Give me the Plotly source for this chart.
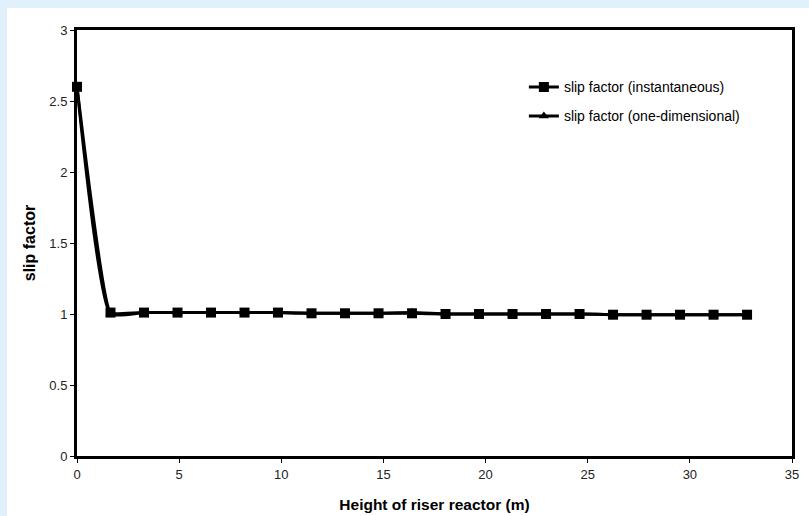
import plotly.graph_objects as go

height_m = [0, 1.64, 3.28, 4.92, 6.56, 8.2, 9.84, 11.48, 13.12, 14.76, 16.4,
            18.04, 19.68, 21.32, 22.96, 24.6, 26.24, 27.88, 29.52, 31.16, 32.8]
slip_inst = [2.6, 1.01, 1.01, 1.01, 1.01, 1.01, 1.01, 1.005, 1.005, 1.005, 1.005,
             1.0, 1.0, 1.0, 1.0, 1.0, 0.995, 0.995, 0.995, 0.995, 0.995]
slip_1d = [2.6, 1.0, 1.01, 1.01, 1.01, 1.01, 1.01, 1.005, 1.005, 1.005, 1.01,
           1.0, 1.0, 1.0, 1.0, 1.0, 0.995, 0.995, 0.995, 0.995, 0.995]
x_ticks = [0, 5, 10, 15, 20, 25, 30, 35]
y_ticks = [0, 0.5, 1, 1.5, 2, 2.5, 3]

fig = go.Figure()
fig.add_trace(go.Scatter(
    x=height_m, y=slip_1d, name="slip factor (one-dimensional)",
    mode="lines+markers", line=dict(color="black", width=3, shape="spline", smoothing=0.45),
    marker=dict(symbol="triangle-up", size=9, color="black"), legend="legend2",
    showlegend=True, cliponaxis=False))
fig.add_trace(go.Scatter(
    x=height_m, y=slip_inst, name="slip factor (instantaneous)",
    mode="lines+markers", line=dict(color="black", width=3, shape="spline", smoothing=0.3),
    marker=dict(symbol="square", size=10, color="black"), legend="legend",
    showlegend=True, cliponaxis=False))

font_main = "Liberation Sans, Arial, sans-serif"
fig.update_layout(
    width=809, height=516,
    margin=dict(l=77, r=17, t=30, b=60),
    showlegend=True,
    paper_bgcolor="#e0f1fb", plot_bgcolor="white",
    font=dict(family=font_main, size=13, color="#222"),
    legend=dict(x=0.625, y=0.903, xanchor="left", yanchor="top",
                bgcolor="rgba(0,0,0,0)", font=dict(size=14, color="black")),
    legend2=dict(x=0.625, y=0.835, xanchor="left", yanchor="top",
                 bgcolor="rgba(0,0,0,0)", font=dict(size=14, color="black")),
    shapes=[dict(type="rect", xref="paper", yref="paper",
                 x0=(7 - 77) / 715, x1=(812 - 77) / 715,
                 y0=(456 - 520) / 426, y1=(456 - 8) / 426,
                 fillcolor="white", line=dict(width=0), layer="below")],
)
fig.update_xaxes(range=[0, 35], tickvals=x_ticks, showgrid=False, zeroline=False,
                 showline=True, linecolor="black", linewidth=3, mirror=True,
                 ticks="outside", ticklen=4, tickcolor="black", automargin=False,
                 title=dict(text="<b>Height of riser reactor (m)</b>", standoff=19,
                            font=dict(size=15.5, color="black")))
fig.update_yaxes(range=[0, 3], tickvals=y_ticks, ticktext=["0", "0.5", "1", "1.5", "2", "2.5", "3"],
                 showgrid=False, zeroline=False, automargin=False,
                 showline=True, linecolor="black", linewidth=3, mirror=True,
                 ticks="outside", ticklen=4, tickcolor="black",
                 title=dict(text="<b>slip factor</b>", standoff=10,
                            font=dict(size=16, color="black")))
fig.write_html("out.html")
